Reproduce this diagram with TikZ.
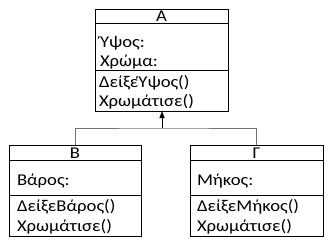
\documentclass[tikz,border=0pt]{standalone}
\usepackage{fontspec}
\setmainfont{Carlito}[FakeStretch=1.13]
\usetikzlibrary{arrows.meta}
\tikzset{
  umlbox/.style={draw=black, line width=1pt, inner sep=0pt, outer sep=0pt, anchor=north west},
  divline/.style={draw=black, line width=1pt},
  txt/.style={inner sep=0pt, outer sep=0pt, anchor=base west, font=\fontsize{16.5}{19}\selectfont},
  ttl/.style={inner sep=0pt, outer sep=0pt, anchor=base, font=\fontsize{16.5}{19}\selectfont},
  conn/.style={draw=black!55, line width=1pt},
  inh/.style={draw=black, line width=1pt, -{Triangle[width=5pt,length=7pt]}}
}
\begin{document}
\begin{tikzpicture}[x=1pt,y=-1pt]
\useasboundingbox (0,0) rectangle (334,244);
% Box A
\node[umlbox, minimum width=133pt, minimum height=102pt] (A) at (95,9) {};
\draw[divline] (95,23) -- (228,23);
\draw[divline] (95,70.5) -- (228,70.5);
\node[ttl] (At) at (161.5,21.5) {A};
\node[txt] (A1) at (100,47.5) {Ύψος:};
\node[txt] (A2) at (100,66) {Χρώμα:};
\node[txt] (A3) at (99,87.5) {ΔείξεΎψος()};
\node[txt] (A4) at (99,106.5) {Χρωμάτισε()};
% Box B
\node[umlbox, minimum width=132pt, minimum height=91pt] (B) at (9,145) {};
\draw[divline] (9,160) -- (141,160);
\draw[divline] (9,195) -- (141,195);
\node[ttl] (Bt) at (75,158) {B};
\node[txt] (B1) at (17,185) {Βάρος:};
\node[txt] (B2) at (17,211) {ΔείξεΒάρος()};
\node[txt] (B3) at (17,231) {Χρωμάτισε()};
% Box G
\node[umlbox, minimum width=133pt, minimum height=91pt] (G) at (190,145) {};
\draw[divline] (190,160) -- (323,160);
\draw[divline] (190,195) -- (323,195);
\node[ttl] (Gt) at (256.5,158) {Γ};
\node[txt] (G1) at (197,185) {Μήκος:};
\node[txt] (G2) at (197,211) {ΔείξεΜήκος()};
\node[txt] (G3) at (197,231) {Χρωμάτισε()};
% connectors
\coordinate (J) at (162,128);
\draw[conn] (B.north) |- (J) -| (G.north);
\draw[inh] (J) -- (A.south -| J);
\end{tikzpicture}
\end{document}
